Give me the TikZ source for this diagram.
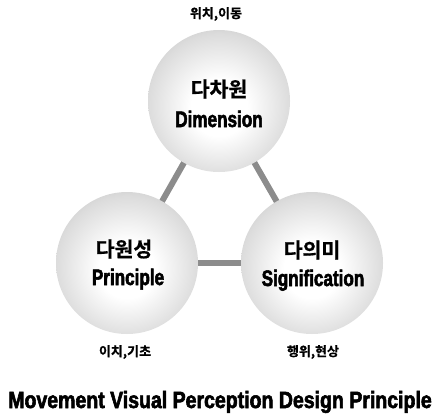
\documentclass[tikz,border=0pt]{standalone}
\usepackage{fontspec}
\usetikzlibrary{backgrounds}
\newfontfamily\krfont{Noto Sans CJK KR Bold}[FakeBold=0.8]
\newfontfamily\condfont{Liberation Sans}[FakeStretch=0.76, FakeBold=2.4, BoldFont={Liberation Sans Bold}, BoldFeatures={FakeStretch=0.76, FakeBold=2.4}]
\newfontfamily\titlefont{Liberation Sans}[FakeStretch=0.83, FakeBold=2.4, BoldFont={Liberation Sans Bold}, BoldFeatures={FakeStretch=0.83, FakeBold=2.4}]
\definecolor{linkgray}{HTML}{8C8C8C}
\definecolor{rimgray}{HTML}{828282}
\pgfdeclareradialshading{sphere}{\pgfpoint{0bp}{-3bp}}{%
  color(0bp)=(white);
  color(10bp)=(white);
  color(25bp)=(white!72!rimgray);
  color(38bp)=(white!38!rimgray);
  color(50bp)=(rimgray)}
\tikzset{
  ball/.style={circle, minimum size=142pt, inner sep=0pt, shading=sphere},
  link/.style={draw=linkgray, line width=6pt},
  kr/.style={font=\krfont\fontsize{20.5}{23}\selectfont},
  en/.style={font=\condfont\bfseries\fontsize{22.5}{26}\selectfont, anchor=base},
  tag/.style={font=\krfont\fontsize{13}{15}\selectfont},
  caption/.style={font=\titlefont\bfseries\fontsize{23.5}{27}\selectfont, anchor=base}
}
\begin{document}
\begin{tikzpicture}[x=1pt, y=-1pt]
  \useasboundingbox (0,0) rectangle (435,413);
  % spheres
  \node[ball] (dim) at (219,101) {};
  \node[ball] (pri) at (127,263) {};
  \node[ball] (sig) at (312,263) {};
  % connecting bars behind the spheres
  \begin{scope}[on background layer]
    \draw[link] (dim.center) -- (pri.center);
    \draw[link] (dim.center) -- (sig.center);
    \draw[link] (pri.center) -- (sig.center);
  \end{scope}
  % texts inside the spheres
  \node[kr] (dimk) at (219,89) {다차원};
  \node[en] (dime) at (219,127) {Dimension};
  \node[kr] (prik) at (124,249) {다원성};
  \node[en] (prie) at (128,285) {Principle};
  \node[kr] (sigk) at (312,250) {다의미};
  \node[en] (sige) at (313,286) {Signification};
  % labels outside
  \node[tag] (dimt) at (216,14) {위치,이동};
  \node[tag] (prit) at (125,352) {이치,기초};
  \node[tag] (sigt) at (313,352) {행위,현상};
  \node[caption] (title) at (220,408) {Movement Visual Perception Design Principle};
\end{tikzpicture}
\end{document}
